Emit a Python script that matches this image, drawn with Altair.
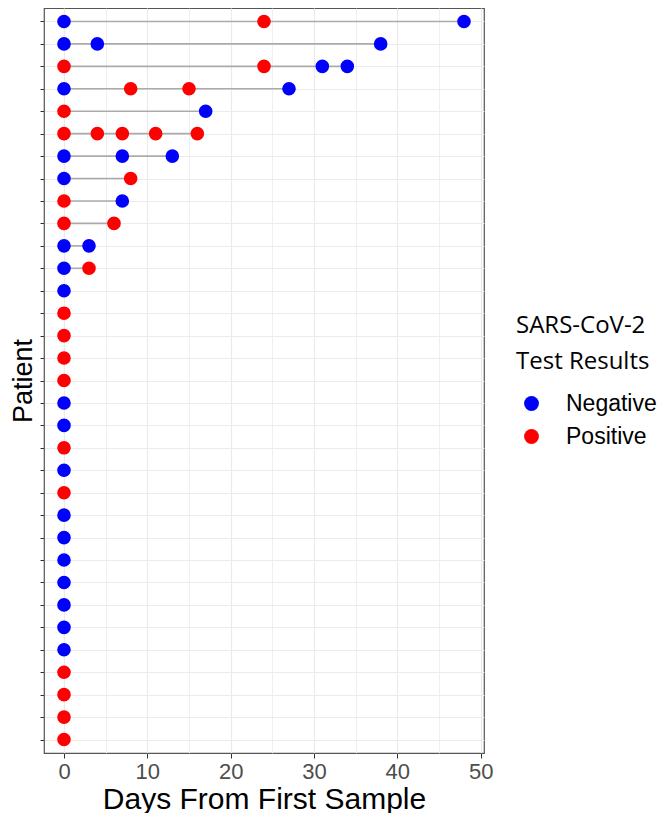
import altair as alt
import pandas as pd

# one entry per test: patient row (1 = top), day of sample, result
patient = [1, 1, 1,
           2, 2, 2,
           3, 3, 3, 3,
           4, 4, 4, 4,
           5, 5,
           6, 6, 6, 6, 6,
           7, 7, 7,
           8, 8,
           9, 9,
           10, 10,
           11, 11,
           12, 12,
           13, 14, 15, 16, 17, 18, 19, 20, 21, 22, 23, 24, 25, 26, 27, 28, 29, 30, 31, 32, 33]
day = [0, 24, 48,
       0, 4, 38,
       0, 24, 31, 34,
       0, 8, 15, 27,
       0, 17,
       0, 4, 7, 11, 16,
       0, 7, 13,
       0, 8,
       0, 7,
       0, 6,
       0, 3,
       0, 3,
       0, 0, 0, 0, 0, 0, 0, 0, 0, 0, 0, 0, 0, 0, 0, 0, 0, 0, 0, 0, 0]
result = ["Negative", "Positive", "Negative",
          "Negative", "Negative", "Negative",
          "Positive", "Positive", "Negative", "Negative",
          "Negative", "Positive", "Positive", "Negative",
          "Positive", "Negative",
          "Positive", "Positive", "Positive", "Positive", "Positive",
          "Negative", "Negative", "Negative",
          "Negative", "Positive",
          "Positive", "Negative",
          "Positive", "Positive",
          "Negative", "Negative",
          "Negative", "Positive",
          "Negative", "Positive", "Positive", "Positive", "Positive", "Negative", "Negative",
          "Positive", "Negative", "Positive", "Negative", "Negative", "Negative", "Negative",
          "Negative", "Negative", "Negative", "Positive", "Positive", "Positive", "Positive"]

major_ticks = [0, 10, 20, 30, 40, 50]
minor_ticks = [5, 15, 25, 35, 45]
categories = ["Negative", "Positive"]
colors = ["#0000FF", "#FF0000"]

df = pd.DataFrame({"patient": [f"P{p:02d}" for p in patient], "day": day, "result": result})
order = sorted(df["patient"].unique())

xscale = alt.Scale(domain=[-2.4, 50.4], nice=False, zero=False)
yscale = alt.Scale(type="point", padding=0.6)

y_enc = alt.Y("patient:N", sort=order, scale=yscale,
              axis=alt.Axis(title="Patient", labels=False, ticks=True, tickSize=4,
                            tickColor="#333333", domain=False, grid=True,
                            gridColor="#EBEBEB", gridWidth=1.2,
                            titleFontSize=27, titleFont="Liberation Sans",
                            titleFontWeight="normal", titleColor="#000000",
                            titlePadding=2))

segments = alt.Chart(df).mark_rule(color="#ABABAB", strokeWidth=1.6).encode(
    y=y_enc,
    x=alt.X("min(day):Q", scale=xscale,
            axis=alt.Axis(orient="top", values=minor_ticks, grid=True, gridColor="#EBEBEB",
                          gridWidth=0.8, ticks=False, labels=False, domain=False),
            title=None),
    x2="max(day):Q",
)

points = alt.Chart(df).mark_circle(size=185, opacity=1).encode(
    y=y_enc,
    x=alt.X("day:Q", scale=xscale,
            axis=alt.Axis(title="Days From First Sample", values=major_ticks, grid=True,
                          gridColor="#EBEBEB", gridWidth=1.2, tickSize=5, tickColor="#333333",
                          domain=False, labelFontSize=22, labelColor="#4D4D4D",
                          labelFont="Liberation Sans", labelPadding=3,
                          titleFontSize=30, titleFont="Liberation Sans",
                          titleFontWeight="normal", titleColor="#000000", titlePadding=2)),
    color=alt.Color("result:N",
                    scale=alt.Scale(domain=categories, range=colors),
                    legend=alt.Legend(title=["SARS-CoV-2", "Test Results"], orient="none",
                                      legendX=472, legendY=306, padding=0,
                                      titleFont="Open Sans", titleFontSize=24,
                                      titleFontWeight="normal", titleColor="#000000",
                                      titleLineHeight=36, titlePadding=18,
                                      labelFont="Liberation Sans", labelFontSize=23,
                                      labelColor="#000000", labelOffset=23,
                                      symbolType="circle", symbolSize=220,
                                      symbolStrokeWidth=0, symbolOpacity=1,
                                      symbolOffset=4, rowPadding=9)),
)

chart = alt.layer(segments, points).resolve_axis(x="independent").properties(
    width=440, height=745,
    autosize=alt.AutoSizeParams(type="none"),
    padding={"left": 36, "top": 0, "right": 176, "bottom": 60},
).configure_view(stroke="#555555", strokeWidth=1.2)

chart.save("out.html", embed_options={"renderer": "svg", "actions": False})
